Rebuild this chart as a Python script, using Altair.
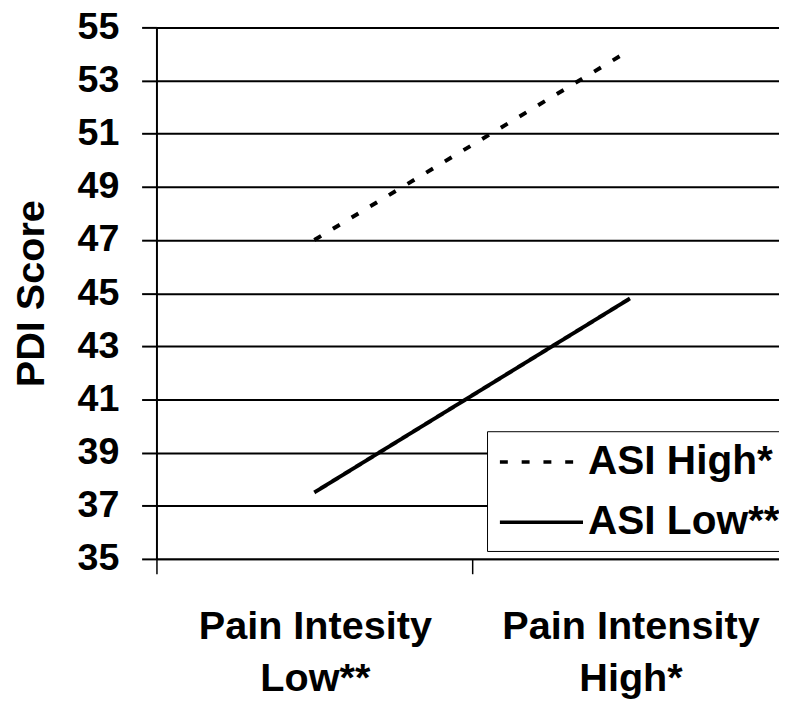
import json
import altair as alt
import pandas as pd

# ---- data ----
pain_levels = ["Low", "High"]
x_label_lines = [["Pain Intesity", "Low**"], ["Pain Intensity", "High*"]]
series_names = ["ASI High*", "ASI Low**"]
asi_high = [47.0, 54.15]
asi_low = [37.5, 44.8]
y_ticks = [35, 37, 39, 41, 43, 45, 47, 49, 51, 53, 55]
x_boundaries = [0, 1]

rows = []
for name, vals in zip(series_names, [asi_high, asi_low]):
    for i, v in enumerate(vals):
        rows.append({"series": name, "pain": pain_levels[i], "pos": i + 0.5, "score": v})
df = pd.DataFrame(rows)

label_expr = (
    "datum.value == 0 ? " + json.dumps(x_label_lines[0]) + " : " + json.dumps(x_label_lines[1])
)

FONT = "Liberation Sans"

chart = (
    alt.Chart(df)
    .mark_line(strokeWidth=4, color="black")
    .encode(
        x=alt.X(
            "pos:Q",
            scale=alt.Scale(domain=[0, 1.972], nice=False, zero=False),
            axis=alt.Axis(
                values=x_boundaries,
                title=None,
                labelExpr=label_expr,
                tickSize=15,
                tickWidth=1.5,
                tickColor="black",
                labelOffset=160,
                labelPadding=33,
                labelFlush=False,
                labelOverlap=False,
                labelBound=False,
                labelLimit=600,
                grid=False,
                domainColor="black",
                domainWidth=2,
                labelFontSize=40,
                labelFont=FONT,
                labelFontWeight="bold",
                labelColor="black",
                labelLineHeight=53,
            ),
        ),
        y=alt.Y(
            "score:Q",
            scale=alt.Scale(domain=[35, 55], nice=False, zero=False),
            axis=alt.Axis(
                values=y_ticks,
                title="PDI Score",
                titleFont=FONT,
                titleFontSize=40,
                titleFontWeight="bold",
                titleColor="black",
                titlePadding=26,
                labelFont=FONT,
                labelFontSize=38,
                labelFontWeight="bold",
                labelColor="black",
                labelPadding=23,
                tickSize=15,
                tickWidth=2,
                tickColor="black",
                domainColor="black",
                domainWidth=2,
                grid=True,
                gridColor="black",
                gridWidth=2,
                gridOpacity=1,
            ),
        ),
        strokeDash=alt.StrokeDash(
            "series:N",
            scale=alt.Scale(domain=series_names, range=[[8, 14], [1, 0]]),
            legend=alt.Legend(
                title=None,
                orient="none",
                legendX=334,
                legendY=408,
                symbolType="M-0.9,0H3.3",
                symbolSize=1600,
                symbolStrokeWidth=3.5,
                symbolStrokeColor="black",
                symbolFillColor="transparent",
                labelFont=FONT,
                labelFontSize=41,
                labelFontWeight="bold",
                labelColor="black",
                labelOffset=49,
                labelLimit=400,
                padding=9,
                rowPadding=19,
                strokeColor="black",
                fillColor="white",
            ),
        ),
    )
    .properties(
        width=629,
        height=537,
        autosize=alt.AutoSizeParams(type="none"),
        padding={"left": 150, "top": 16, "right": 0, "bottom": 142},
        background="white",
    )
    .configure_view(stroke=None)
)

chart.save("out.html", embed_options={"renderer": "svg", "actions": False})
